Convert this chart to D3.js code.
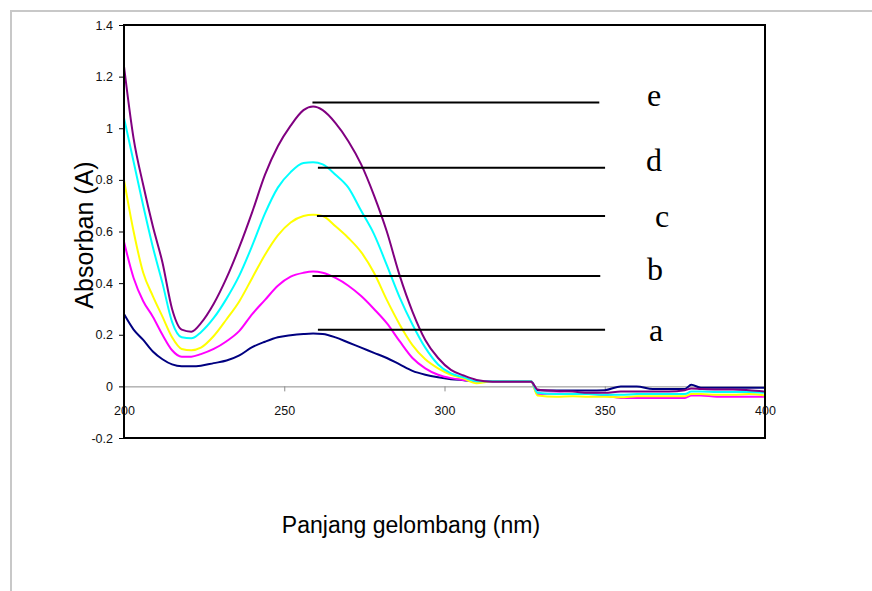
<!DOCTYPE html>
<html>
<head>
<meta charset="utf-8">
<script src="https://cdn.jsdelivr.net/npm/d3@7"></script>
<style>
  body { margin: 0; background: #fff; }
  svg { display: block; }
</style>
</head>
<body>
<div id="chart"></div>
<script>
// wavelengths (nm) shared by all five spectra
var wavelengths = [200,203,206,209,212,215,218,221,224,228,232,236,240,244,248,252,256,259,262,266,
  270,274,278,282,286,290,294,298,302,306,310,315,320,327,329,335,340,345,350,355,
  360,365,370,375,377,380,385,390,395,400];

var seriesA = [0.28,0.22,0.18,0.135,0.105,0.085,0.078,0.078,0.08,0.09,0.10,0.12,0.152,0.173,0.19,0.198,0.203,0.205,0.203,0.19,
  0.17,0.15,0.13,0.11,0.085,0.06,0.045,0.035,0.028,0.024,0.02,0.02,0.02,0.02,-0.015,-0.016,-0.016,-0.016,-0.015,0.0,
  0.0,-0.01,-0.01,-0.01,0.006,-0.005,-0.005,-0.005,-0.005,-0.005];
var seriesB = [0.56,0.42,0.33,0.27,0.20,0.14,0.115,0.115,0.125,0.145,0.175,0.215,0.28,0.335,0.39,0.425,0.44,0.445,0.44,0.42,
  0.39,0.35,0.30,0.245,0.175,0.11,0.07,0.045,0.032,0.025,0.02,0.02,0.02,0.02,-0.03,-0.028,-0.03,-0.03,-0.035,-0.045,
  -0.045,-0.045,-0.045,-0.045,-0.035,-0.035,-0.04,-0.04,-0.04,-0.04];
var seriesC = [0.80,0.60,0.44,0.35,0.27,0.19,0.145,0.14,0.15,0.195,0.26,0.33,0.42,0.51,0.585,0.635,0.66,0.665,0.66,0.62,
  0.575,0.52,0.44,0.335,0.24,0.16,0.105,0.07,0.045,0.03,0.012,0.02,0.02,0.02,-0.035,-0.04,-0.038,-0.04,-0.04,-0.042,
  -0.038,-0.038,-0.038,-0.038,-0.03,-0.03,-0.032,-0.032,-0.03,-0.035];
var seriesD = [1.04,0.87,0.70,0.54,0.40,0.25,0.19,0.186,0.21,0.265,0.34,0.43,0.545,0.67,0.77,0.83,0.865,0.868,0.86,0.82,
  0.77,0.68,0.59,0.47,0.345,0.24,0.15,0.085,0.05,0.035,0.02,0.02,0.02,0.02,-0.025,-0.03,-0.03,-0.03,-0.032,-0.032,
  -0.03,-0.03,-0.03,-0.03,-0.02,-0.02,-0.022,-0.022,-0.022,-0.025];
var seriesE = [1.24,0.96,0.78,0.62,0.48,0.30,0.22,0.212,0.245,0.32,0.42,0.54,0.675,0.82,0.93,1.01,1.07,1.084,1.07,1.02,
  0.95,0.86,0.74,0.60,0.43,0.29,0.18,0.11,0.064,0.042,0.025,0.018,0.018,0.018,-0.012,-0.018,-0.02,-0.025,-0.025,-0.02,
  -0.02,-0.02,-0.02,-0.015,-0.008,-0.01,-0.012,-0.012,-0.015,-0.02];

var seriesNames = ["a", "b", "c", "d", "e"];
var seriesColors = ["#000080", "#ff00ff", "#ffff00", "#00ffff", "#800080"];
var allSeries = [seriesA, seriesB, seriesC, seriesD, seriesE];

// pointer lines next to the letters: start nm, end nm, absorbance
var pointerStart = [260.5, 258.8, 260.2, 260.5, 258.8];
var pointerEnd = [350.1, 348.6, 350.1, 350.1, 348.3];
var pointerLevel = [0.219, 0.428, 0.66, 0.847, 1.10];
// letter positions (nm, absorbance at baseline)
var letterX = [363.8, 363.2, 365.7, 362.9, 363.2];
var letterY = [0.177, 0.412, 0.618, 0.836, 1.087];

var yTicks = [-0.2, 0, 0.2, 0.4, 0.6, 0.8, 1, 1.2, 1.4];
var xTicks = [200, 250, 300, 350, 400];

var svg = d3.select("#chart").append("svg")
  .attr("width", 872)
  .attr("height", 591);

// outer grey frame
svg.append("line").attr("x1", 10).attr("x2", 872).attr("y1", 11).attr("y2", 11)
  .attr("stroke", "#c8c8c8").attr("stroke-width", 2);
svg.append("line").attr("x1", 11).attr("x2", 11).attr("y1", 10).attr("y2", 591)
  .attr("stroke", "#c8c8c8").attr("stroke-width", 2);

var x = d3.scaleLinear().domain([200, 400]).range([124, 765]);
var y = d3.scaleLinear().domain([-0.2, 1.4]).range([438, 25]);

// y axis
var yAxis = svg.append("g")
  .attr("transform", "translate(124,0)")
  .call(d3.axisLeft(y).tickValues(yTicks).tickSize(5).tickPadding(6)
    .tickFormat(function(d){ return String(+d.toFixed(1)); }));
yAxis.select(".domain").remove();
yAxis.selectAll("text").attr("font-family", "Liberation Sans, Arial, sans-serif")
  .attr("font-size", "12.5px").attr("fill", "#111");

// x axis sits on zero
var xAxis = svg.append("g")
  .attr("transform", "translate(0," + y(0) + ")")
  .call(d3.axisBottom(x).tickValues(xTicks).tickSize(5).tickSizeOuter(0).tickPadding(15));
xAxis.select(".domain").attr("stroke", "#8c8c8c");
xAxis.selectAll(".tick line").attr("stroke", "#8c8c8c");
xAxis.selectAll("text").attr("font-family", "Liberation Sans, Arial, sans-serif")
  .attr("font-size", "12.5px").attr("fill", "#111");

svg.append("clipPath").attr("id", "clip")
  .append("rect").attr("x", 124).attr("y", 25).attr("width", 641).attr("height", 413);

var line = d3.line()
  .x(function(d){ return x(d[0]); })
  .y(function(d){ return y(d[1]); })
  .curve(d3.curveMonotoneX);

svg.append("g").attr("clip-path", "url(#clip)")
  .selectAll(".spectrum")
  .data(allSeries)
  .enter()
  .append("path")
  .attr("class", "spectrum")
  .attr("fill", "none")
  .attr("stroke", function(d, i){ return seriesColors[i]; })
  .attr("stroke-width", 2)
  .attr("d", function(d){
    return line(wavelengths.map(function(w, j){ return [w, d[j]]; }));
  });

// plot border
svg.append("rect")
  .attr("x", x(200)).attr("y", y(1.4))
  .attr("width", x(400) - x(200)).attr("height", y(-0.2) - y(1.4))
  .attr("fill", "none").attr("stroke", "#000").attr("stroke-width", 2);

// pointer lines + letters
svg.selectAll(".pointer")
  .data(seriesNames)
  .enter()
  .append("line")
  .attr("class", "pointer")
  .attr("x1", function(d, i){ return x(pointerStart[i]); })
  .attr("x2", function(d, i){ return x(pointerEnd[i]); })
  .attr("y1", function(d, i){ return y(pointerLevel[i]); })
  .attr("y2", function(d, i){ return y(pointerLevel[i]); })
  .attr("stroke", "#000")
  .attr("stroke-width", 2);

svg.selectAll(".letter")
  .data(seriesNames)
  .enter()
  .append("text")
  .attr("class", "letter")
  .attr("x", function(d, i){ return x(letterX[i]); })
  .attr("y", function(d, i){ return y(letterY[i]); })
  .attr("font-family", "Liberation Serif, Times New Roman, serif")
  .attr("font-size", "32px")
  .text(function(d){ return d; });

// axis titles
svg.append("text")
  .attr("x", 411).attr("y", 533)
  .attr("text-anchor", "middle")
  .attr("font-family", "Liberation Sans, Arial, sans-serif")
  .attr("font-size", "23px")
  .text("Panjang gelombang (nm)");

svg.append("text")
  .attr("transform", "translate(93,235) rotate(-90)")
  .attr("text-anchor", "middle")
  .attr("font-family", "Liberation Sans, Arial, sans-serif")
  .attr("font-size", "25px")
  .text("Absorban (A)");
</script>
</body>
</html>
